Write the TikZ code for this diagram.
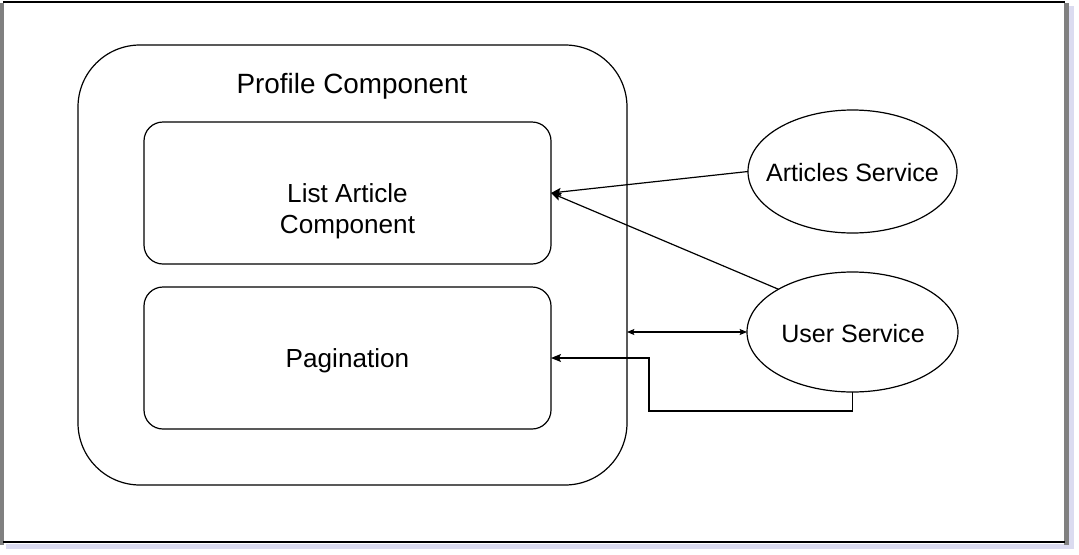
\documentclass[tikz,border=0pt]{standalone}
\usepackage{fontspec}
\setmainfont{Liberation Sans}
\usetikzlibrary{arrows.meta,shapes.geometric}
\begin{document}
\begin{tikzpicture}[x=0.75pt,y=-0.75pt,
  box/.style={draw=black,line width=0.9pt,rectangle,inner sep=0pt,outer sep=0pt},
  oval/.style={draw=black,line width=0.9pt,ellipse,inner sep=0pt,outer sep=0pt},
  lbl/.style={font=\fontsize{19.6pt}{23.2pt}\selectfont,align=center,inner sep=0pt},
  olbl/.style={font=\fontsize{18.8pt}{22pt}\selectfont,align=center,inner sep=0pt},
  conn/.style={line width=0.9pt,-{Stealth[length=7.5pt,width=6pt,inset=1.5pt]}},
  dconn/.style={line width=0.9pt,{Stealth[length=5.5pt,width=4.5pt,inset=1pt]}-{Stealth[length=5.5pt,width=4.5pt,inset=1pt]}}
]
\useasboundingbox (0,0) rectangle (1079,554);
% frame
\fill[white] (0,0) rectangle (1079,554);
\fill[gray!60!blue!20] (1068,6) rectangle (1074,549);
\fill[gray!60!blue!20] (6,544) rectangle (1074,549);
\fill[black!50] (0,3) rectangle (3.5,545);
\fill[black!50] (1064,3) rectangle (1069,545);
\draw[line width=1.6pt] (3,2) -- (1065,2);
\draw[line width=1.6pt] (3,542) -- (1065,542);
% container
\node[box,rounded corners=46.5pt,minimum width=411.75pt,minimum height=330pt] (profile) at (352.5,265) {};
\node[lbl,font=\fontsize{20.9pt}{24pt}\selectfont,anchor=base] (ptitle) at (352,93) {Profile Component};
\node[box,rounded corners=14.25pt,minimum width=305.25pt,minimum height=106.5pt] (listc) at (347.5,193) {};
\node[lbl] (listt) at (347.5,211.5) {List Article\\Component};
\node[box,rounded corners=14.25pt,minimum width=305.25pt,minimum height=106.5pt] (pag) at (347.5,358) {};
\node[lbl] (pagt) at (347.5,361) {Pagination};
\node[oval,minimum width=156.75pt,minimum height=92.25pt] (as) at (852.5,171.5) {};
\node[olbl] (ast) at (852.5,172.5) {Articles Service};
\node[oval,minimum width=158.25pt,minimum height=90pt] (us) at (852.5,332) {};
\node[olbl] (ust) at (853,334) {User Service};
\coordinate (b1) at (649,411);
% connectors
\draw[conn] (as.west) -- (listc.east);
\draw[conn] (us.150) -- (listc.east);
\draw[dconn] (profile.east |- us.west) -- (us.west);
\draw[conn] (us.south) |- (b1) |- (pag.east);
\end{tikzpicture}
\end{document}
